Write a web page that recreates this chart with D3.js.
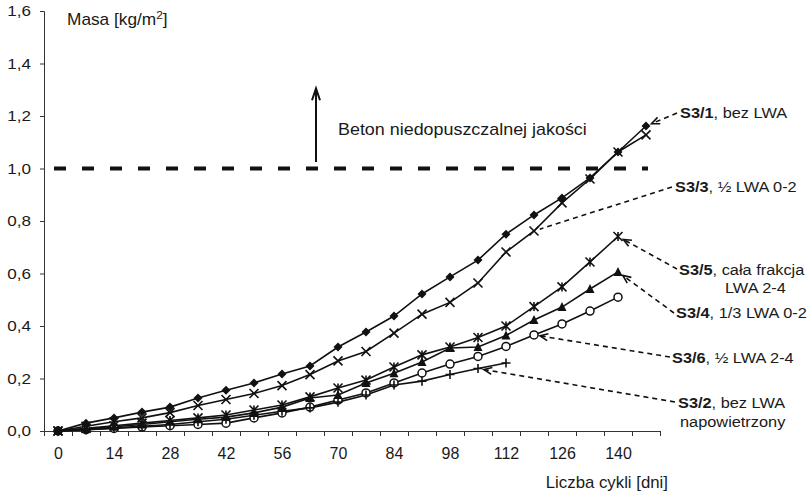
<!DOCTYPE html>
<html>
<head>
<meta charset="utf-8">
<script src="https://cdn.jsdelivr.net/npm/d3@7/dist/d3.min.js"></script>
<style>
  html, body { margin: 0; padding: 0; background: #fff; }
  svg { display: block; font-family: "Liberation Sans", Arial, sans-serif; }
  text { fill: #1a1a1a; }
</style>
</head>
<body>
<svg id="chart" width="812" height="499"></svg>
<script>
// ---------- data ----------
const days = [0,7,14,21,28,35,42,49,56,63,70,77,84,91,98,105,112,119,126,133,140,147];
const xTickLabels = [0,14,28,42,56,70,84,98,112,126,140];
const yTickLabels = [0,0.2,0.4,0.6,0.8,1.0,1.2,1.4,1.6];

const s31 = [0,0.03,0.05,0.072,0.091,0.126,0.155,0.183,0.217,0.248,0.32,0.377,0.438,0.522,0.587,0.651,0.75,0.823,0.888,0.964,1.063,1.162];
const s33 = [0,0.018,0.035,0.05,0.07,0.097,0.12,0.143,0.173,0.215,0.267,0.303,0.373,0.445,0.49,0.564,0.682,0.762,0.869,0.96,1.063,1.128];
const s35 = [0,0.01,0.02,0.03,0.04,0.05,0.061,0.08,0.099,0.13,0.164,0.194,0.244,0.29,0.32,0.356,0.40,0.474,0.549,0.644,0.741];
const s34 = [0,0.008,0.016,0.025,0.035,0.045,0.053,0.069,0.091,0.126,0.137,0.183,0.22,0.263,0.316,0.32,0.364,0.423,0.472,0.541,0.606];
const s36 = [0,0.005,0.01,0.015,0.02,0.025,0.03,0.05,0.069,0.091,0.118,0.145,0.183,0.221,0.255,0.284,0.322,0.366,0.408,0.457,0.51];
const s32 = [0,0.005,0.012,0.018,0.025,0.035,0.045,0.06,0.075,0.088,0.11,0.137,0.175,0.19,0.215,0.238,0.259];

const seriesNames = ["S3/1","S3/3","S3/5","S3/4","S3/6","S3/2"];
const seriesValues = [s31, s33, s35, s34, s36, s32];
const seriesMarkers = ["diamond","cross","star","triangle","circle","plus"];
const labelBold = ["S3/1","S3/3","S3/5","S3/4","S3/6","S3/2"];
const labelRest = [", bez LWA", ", \u00bd LWA 0-2", ", ca\u0142a frakcja", ", 1/3 LWA 0-2", ", \u00bd LWA 2-4", ", bez LWA"];
const labelSecond = ["", "", "LWA 2-4", "", "", "napowietrzony"];
const labelTargetDay = [147, 119, 140, 140, 119, 105];

const limitValue = 1.0;
const yTitle = "Masa [kg/m";
const xTitle = "Liczba cykli [dni]";
const limitText = "Beton niedopuszczalnej jako\u015bci";

// ---------- layout ----------
const svg = d3.select("#chart");
const x = d3.scaleLinear().domain([-3.5, 150.5]).range([44, 660]);
const y = d3.scaleLinear().domain([0, 1.6]).range([431, 11]);
const fmt = v => d3.format(".1f")(v).replace(".", ",");
const FS = 15;

// helper: horizontally stretched text
function stext(px, py, size, sx, anchor) {
  return svg.append("text")
    .attr("transform", `translate(${px},${py}) scale(${sx},1)`)
    .attr("font-size", size).attr("text-anchor", anchor || "start");
}

// y axis
const yAxis = d3.axisLeft(y).tickValues(yTickLabels).tickFormat("").tickSize(4);
const gy = svg.append("g").attr("transform", "translate(44,0)").call(yAxis);
gy.select(".domain").attr("stroke", "#333").attr("stroke-width", 1);
gy.selectAll(".tick line").attr("stroke", "#333");
yTickLabels.forEach(v => {
  stext(31, y(v) + 5, 14, 1.22, "end").text(fmt(v));
});

// x axis: ticks at category boundaries
const boundaries = d3.range(-3.5, 151, 7);
const xAxisTicks = d3.axisBottom(x).tickValues(boundaries).tickFormat("").tickSize(5).tickSizeOuter(0);
const gx = svg.append("g").attr("transform", "translate(0,431)").call(xAxisTicks);
gx.select(".domain").attr("stroke", "#333").attr("stroke-width", 1);
gx.selectAll(".tick line").attr("stroke", "#333");
const xAxisLabels = d3.axisBottom(x).tickValues(xTickLabels).tickFormat(d3.format("d")).tickSize(0).tickPadding(17);
const gxl = svg.append("g").attr("transform", "translate(0,431)").call(xAxisLabels);
gxl.select(".domain").remove();
gxl.selectAll(".tick text").attr("font-size", 16).attr("fill", "#1a1a1a").attr("font-family", "Liberation Sans, Arial, sans-serif");

// titles
const yt = stext(67, 25, 16, 1.08, "start");
yt.append("tspan").text(yTitle);
yt.append("tspan").attr("font-size", 11).attr("dy", -6).text("2");
yt.append("tspan").attr("dy", 6).text("]");
stext(668, 488, 16, 1.05, "end").text(xTitle);

// limit line
svg.append("line")
  .attr("x1", x(-1.0)).attr("x2", x(147.5))
  .attr("y1", y(limitValue)).attr("y2", y(limitValue))
  .attr("stroke", "#111").attr("stroke-width", 4).attr("stroke-dasharray", "12,16");

// vertical arrow
const ax = x(64.5);
svg.append("line").attr("x1", ax).attr("x2", ax).attr("y1", y(1.025)).attr("y2", y(1.295))
  .attr("stroke", "#111").attr("stroke-width", 2);
svg.append("path")
  .attr("d", `M${ax-4},${y(1.26)} L${ax},${y(1.305)} L${ax+4},${y(1.26)}`)
  .attr("fill", "none").attr("stroke", "#111").attr("stroke-width", 2);
stext(338, 135, 16, 1.12, "start").text(limitText);

// series
const line = d3.line().x((d, i) => x(days[i])).y(d => y(d));
const gs = svg.append("g");
seriesValues.forEach((vals, si) => {
  gs.append("path").datum(vals).attr("d", line)
    .attr("fill", "none").attr("stroke", "#111").attr("stroke-width", 1.6);
});

function drawMarker(g, type, cx, cy) {
  const s = 4.5;
  if (type === "diamond") {
    g.append("path").attr("d", `M${cx},${cy-s} L${cx+s},${cy} L${cx},${cy+s} L${cx-s},${cy} Z`).attr("fill", "#111");
  } else if (type === "cross") {
    g.append("path").attr("d", `M${cx-s},${cy-s} L${cx+s},${cy+s} M${cx-s},${cy+s} L${cx+s},${cy-s}`)
      .attr("stroke", "#111").attr("stroke-width", 1.6).attr("fill", "none");
  } else if (type === "star") {
    g.append("path").attr("d", `M${cx-s},${cy-s} L${cx+s},${cy+s} M${cx-s},${cy+s} L${cx+s},${cy-s} M${cx},${cy-s} L${cx},${cy+s}`)
      .attr("stroke", "#111").attr("stroke-width", 1.6).attr("fill", "none");
  } else if (type === "triangle") {
    g.append("path").attr("d", `M${cx},${cy-s-0.5} L${cx+s},${cy+s-0.5} L${cx-s},${cy+s-0.5} Z`).attr("fill", "#111");
  } else if (type === "circle") {
    g.append("circle").attr("cx", cx).attr("cy", cy).attr("r", 4)
      .attr("fill", "#fff").attr("stroke", "#111").attr("stroke-width", 1.5);
  } else if (type === "plus") {
    g.append("path").attr("d", `M${cx-s},${cy} L${cx+s},${cy} M${cx},${cy-s} L${cx},${cy+s}`)
      .attr("stroke", "#111").attr("stroke-width", 1.6).attr("fill", "none");
  }
}
const gm = svg.append("g");
// draw open-circle series first so filled markers sit on top at the shared origin
const order = [4, 5, 1, 2, 3, 0];
order.forEach(si => {
  seriesValues[si].forEach((v, i) => drawMarker(gm, seriesMarkers[si], x(days[i]), y(v)));
});

// annotations
const labelPos = [[680,118],[675,192],[679,275],[676,318],[672,363],[678,408]];
const lineStart = [[677,113],[672,187],[677,269],[674,313],[670,357],[675,402]];
const hasHead = [true, false, true, true, true, true];
const secondPos = [null, null, [725,293], null, null, [680,427]];

labelBold.forEach((b, i) => {
  const vals = seriesValues[i];
  const di = days.indexOf(labelTargetDay[i]);
  const tx = x(labelTargetDay[i]), ty = y(vals[di]);
  const [sx, sy] = lineStart[i];
  const dx = sx - tx, dy = sy - ty, L = Math.hypot(dx, dy);
  const ux = dx / L, uy = dy / L;
  const off = 6;
  const ex = tx + ux * off, ey = ty + uy * off;
  svg.append("line").attr("x1", sx).attr("y1", sy).attr("x2", ex).attr("y2", ey)
    .attr("stroke", "#111").attr("stroke-width", 1.6).attr("stroke-dasharray", "5,4");
  if (hasHead[i]) {
    const hl = 8, hw = 3.5;
    const bx = ex + ux * hl, by = ey + uy * hl;
    const px = -uy, py = ux;
    svg.append("path")
      .attr("d", `M${bx + px*hw},${by + py*hw} L${ex},${ey} L${bx - px*hw},${by - py*hw}`)
      .attr("fill", "none").attr("stroke", "#111").attr("stroke-width", 1.6);
  }
  const t = stext(labelPos[i][0], labelPos[i][1], FS, 1.09, "start");
  t.append("tspan").attr("font-weight", "bold").text(b);
  t.append("tspan").text(labelRest[i]);
  if (labelSecond[i]) {
    stext(secondPos[i][0], secondPos[i][1], FS, 1.09, "start").text(labelSecond[i]);
  }
});
</script>
</body>
</html>
